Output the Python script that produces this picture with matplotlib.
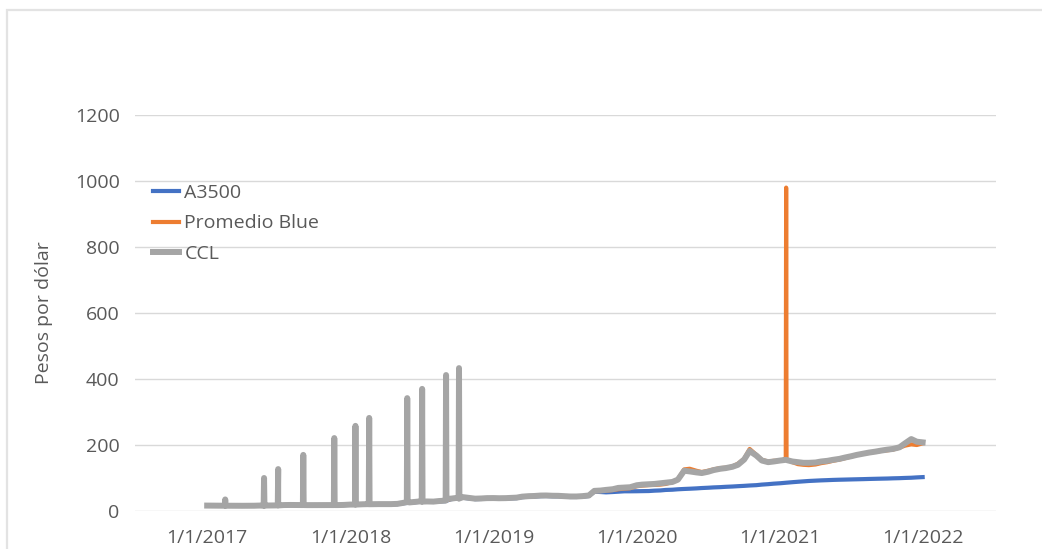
import numpy as np
import pandas as pd
import matplotlib.pyplot as plt
from matplotlib.patches import Rectangle

plt.rcParams['font.family'] = ['Open Sans', 'DejaVu Sans']

# Fechas: 1 y 15 de cada mes, mas el ultimo dato
fechas = list(pd.date_range('2017-01-01', '2021-12-15', freq='SMS')) + [pd.Timestamp('2021-12-30')]

# Datos (pesos por dolar)
a3500 = [
    15.9, 15.9, 15.6, 15.6, 15.5, 15.4, 15.4, 15.4, 15.5, 15.9, 16.1, 16.2,
    16.6, 17.3, 17.6, 17.5, 17.3, 17.2, 17.3, 17.5, 17.6, 17.4, 17.4, 17.9,
    18.8, 19.4, 19.7, 20.2, 20.2, 20.3, 20.2, 20.2, 20.9, 23.5, 25.0, 26.5,
    28.5, 27.8, 27.4, 29.0, 30.0, 36.0, 38.3, 40.2, 38.0, 36.0, 36.5, 37.2,
    37.7, 37.3, 37.5, 38.4, 39.0, 42.0, 43.5, 43.8, 45.0, 45.4, 44.6, 44.5,
    43.5, 42.5, 42.5, 43.5, 45.5, 58.5, 57.5, 56.5, 57.5, 58.5, 59.7, 59.7,
    59.9, 60.2, 60.5, 61.6, 62.3, 63.8, 64.5, 65.8, 66.8, 67.5, 68.5, 69.6,
    70.5, 71.5, 72.3, 73.3, 74.2, 75.2, 76.2, 77.3, 78.3, 80.0, 81.3, 82.8,
    84.1, 85.6, 87.3, 88.6, 89.8, 91.0, 92.0, 92.8, 93.5, 94.2, 94.8, 95.2,
    95.7, 96.1, 96.6, 97.1, 97.6, 98.0, 98.4, 99.0, 99.5, 100.2, 100.8, 101.8,
    102.7,
]
blue = [
    16.2, 16.2, 15.9, 15.9, 15.8, 15.7, 15.7, 15.7, 15.8, 16.2, 16.4, 16.5,
    16.9, 17.8, 18.1, 17.9, 17.7, 17.6, 17.7, 17.9, 18.0, 17.8, 17.8, 18.2,
    19.3, 19.8, 20.2, 20.6, 20.6, 20.7, 20.6, 20.7, 21.3, 24.0, 25.6, 27.2,
    29.2, 28.6, 28.2, 29.8, 31.0, 37.0, 39.5, 41.5, 39.0, 37.0, 37.5, 38.5,
    38.8, 38.3, 38.5, 39.4, 40.0, 43.0, 44.5, 45.0, 46.3, 46.6, 45.8, 45.6,
    44.5, 43.5, 43.5, 44.5, 46.5, 60.0, 60.5, 62.0, 63.5, 66.0, 68.0, 69.0,
    75.0, 77.0, 78.5, 79.0, 80.0, 82.0, 88.0, 96.0, 126.0, 128.0, 122.0, 118.0,
    122.0, 126.0, 130.0, 131.0, 135.0, 143.0, 158.0, 188.0, 170.0, 155.0, 150.0, 152.0,
    152.0, 158.0, 148.0, 142.0, 140.0, 139.0, 141.0, 145.0, 148.0, 152.0, 156.0, 160.0,
    165.0, 170.0, 174.0, 176.0, 180.0, 182.0, 184.0, 186.0, 192.0, 198.0, 202.0, 200.0,
    205.0,
]
ccl = [
    16.4, 16.3, 16.1, 16.0, 15.9, 15.8, 15.8, 15.9, 16.0, 16.5, 16.6, 16.8,
    17.2, 18.0, 18.3, 18.1, 17.9, 17.8, 17.9, 18.1, 18.2, 18.0, 18.0, 18.4,
    19.5, 20.0, 20.4, 20.8, 20.8, 20.9, 20.8, 20.9, 21.6, 24.5, 26.0, 27.6,
    29.5, 28.9, 28.5, 30.2, 31.5, 37.5, 40.0, 42.0, 39.5, 37.4, 38.0, 39.0,
    39.2, 38.7, 39.0, 39.9, 40.5, 43.5, 45.0, 45.5, 46.8, 47.0, 46.2, 46.0,
    45.0, 44.0, 44.0, 45.0, 47.0, 61.0, 62.0, 64.0, 66.0, 70.0, 71.0, 72.0,
    78.0, 80.0, 81.0, 82.0, 84.0, 86.0, 88.0, 95.0, 122.0, 120.0, 117.0, 115.0,
    119.0, 124.0, 128.0, 130.0, 134.0, 140.0, 156.0, 182.0, 168.0, 153.0, 148.0, 150.0,
    153.0, 155.0, 150.0, 148.0, 146.0, 146.0, 147.0, 150.0, 152.0, 155.0, 158.0, 162.0,
    166.0, 170.0, 174.0, 177.0, 180.0, 183.0, 186.0, 188.0, 193.0, 205.0, 218.0, 210.0,
    208.0,
]

# Picos (datos erroneos de un dia)
ccl_pico_fechas = ['2017-02-16', '2017-05-26', '2017-07-01', '2017-09-03', '2017-11-21',
                   '2018-01-14', '2018-02-18', '2018-05-26', '2018-07-03', '2018-09-02',
                   '2018-10-05']
ccl_pico_vals = [35, 100, 127, 170, 221, 258, 282, 342, 370, 412, 433]
ccl_pico_base = [16, 16, 17, 18, 18, 19.5, 20.5, 27, 28.5, 37, 38]
blue_pico_fechas = ['2021-01-16']
blue_pico_vals = [980]
blue_pico_base = [156]

xtick_fechas = ['2017-01-01', '2018-01-01', '2019-01-01', '2020-01-01', '2021-01-01', '2022-01-01']
xtick_labels = ['1/1/2017', '1/1/2018', '1/1/2019', '1/1/2020', '1/1/2021', '1/1/2022']


def con_picos(fechas, vals, p_fechas, p_vals, p_base):
    s = pd.Series(vals, index=pd.DatetimeIndex(fechas))
    extra = {}
    for f, v, b in zip(p_fechas, p_vals, p_base):
        f = pd.Timestamp(f)
        extra[f - pd.Timedelta(days=1)] = b
        extra[f] = v
        extra[f + pd.Timedelta(days=1)] = b
    s = pd.concat([s, pd.Series(extra)]).sort_index()
    return s


s_blue = con_picos(fechas, blue, blue_pico_fechas, blue_pico_vals, blue_pico_base)
s_ccl = con_picos(fechas, ccl, ccl_pico_fechas, ccl_pico_vals, ccl_pico_base)

fig = plt.figure(figsize=(10.42, 5.49), dpi=100)
ax = fig.add_axes([135 / 1042, 1 - 511 / 549, 861 / 1042, 396 / 549])

ax.plot(fechas, a3500, color='#4472C4', lw=3.0, label='A3500')
ax.plot(s_blue.index, s_blue.values, color='#ED7D31', lw=3.0, label='Promedio Blue')
ax.plot(s_ccl.index, s_ccl.values, color='#A5A5A5', lw=4.3, label='CCL')

ax.set_ylim(0, 1200)
ax.set_yticks(range(0, 1201, 200))
ax.set_xlim(pd.Timestamp('2016-07-01'), pd.Timestamp('2022-07-05'))
ax.set_xticks(pd.to_datetime(xtick_fechas))
ax.set_xticklabels(xtick_labels)

ax.grid(axis='y', color='#D9D9D9', lw=1.0)
ax.set_axisbelow(True)
for sp in ax.spines.values():
    sp.set_visible(False)
ax.tick_params(axis='both', length=0, labelsize=14, labelcolor='#595959')
ax.tick_params(axis='y', pad=11)
ax.tick_params(axis='x', pad=13)

ax.set_ylabel('Pesos por dólar', fontsize=14, color='#595959')
ax.yaxis.set_label_coords(-0.095, 0.5)

ax.legend(loc='upper left', bbox_to_anchor=(0.01, 0.85), frameon=False,
          fontsize=14, labelcolor='#595959', handlelength=1.3, handletextpad=0.3,
          labelspacing=0.63, borderpad=0)

# marco del grafico
fig.add_artist(Rectangle((7 / 1042, -0.05), 1.1, 1 - 10 / 549 + 0.05,
                         transform=fig.transFigure, fill=False,
                         edgecolor='#E3E3E3', lw=1.6, clip_on=False))

fig.savefig('out.png', dpi=100)
